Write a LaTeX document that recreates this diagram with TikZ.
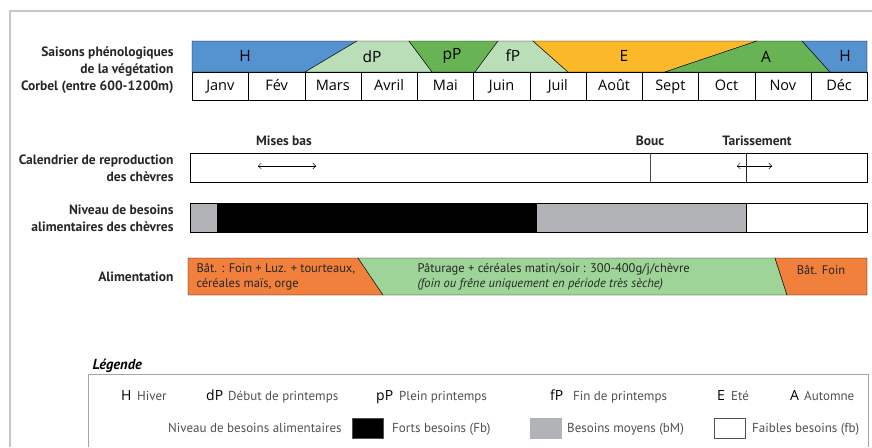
\documentclass[tikz,border=0pt]{standalone}
\usepackage{fontspec}
\setmainfont{PT Sans}
\newfontfamily\chartfont{Open Sans}
\usetikzlibrary{arrows.meta}

\definecolor{hiver}{RGB}{84,146,208}
\definecolor{printclair}{RGB}{186,222,183}
\definecolor{printvert}{RGB}{104,180,84}
\definecolor{ete}{RGB}{251,184,41}
\definecolor{batorange}{RGB}{240,128,60}
\definecolor{paturage}{RGB}{158,212,152}
\definecolor{moyen}{RGB}{178,179,182}
\definecolor{txtgris}{RGB}{80,80,80}

\begin{document}
\begin{tikzpicture}[x=1pt, y=-1pt,
    rowlab/.style={anchor=east, align=right, font=\bfseries\fontsize{13.5}{17}\selectfont, text=black!85},
    toplab/.style={font=\bfseries\fontsize{13.5}{15}\selectfont, text=black!85},
    month/.style={draw, anchor=north west, minimum width=56.25pt, minimum height=28pt, inner sep=0pt, text height=11pt, text depth=2pt, font=\chartfont\fontsize{14.5}{16}\selectfont},
    season/.style={font=\chartfont\fontsize{15.5}{17}\selectfont},
    seg/.style={anchor=north west, minimum height=29pt, inner sep=0pt, outer sep=0pt},
    feed/.style={anchor=west, align=left, font=\fontsize{12.5}{15}\selectfont, text=black!85},
    key/.style={anchor=base west, inner sep=0pt, font=\chartfont\fontsize{14}{16}\selectfont},
    keytxt/.style={anchor=base west, inner sep=0pt, font=\fontsize{13}{15}\selectfont, text=txtgris},
    swatch/.style={anchor=west, draw=txtgris, minimum width=31pt, minimum height=20pt, inner sep=0pt}]

    \useasboundingbox (0,0) rectangle (872,447);
    \draw[black!22, line width=2pt] (10,447) -- (10,11) -- (872,11);

    % saisons
    \filldraw[fill=hiver, thin] (192,41) -- (357,41) -- (305,72) -- (192,72) -- cycle;
    \filldraw[fill=printclair, thin] (357,41) -- (409,41) -- (432,72) -- (305,72) -- cycle;
    \filldraw[fill=printvert, thin] (409,41) -- (498,41) -- (475,72) -- (432,72) -- cycle;
    \filldraw[fill=printclair, thin] (498,41) -- (533,41) -- (568,72) -- (475,72) -- cycle;
    \filldraw[fill=ete, thin] (533,41) -- (757,41) -- (665,72) -- (568,72) -- cycle;
    \filldraw[fill=printvert, thin] (757,41) -- (802,41) -- (830,72) -- (665,72) -- cycle;
    \filldraw[fill=hiver, thin] (802,41) -- (867,41) -- (867,72) -- (830,72) -- cycle;

    \node[season] (sH1) at (245,56) {H};
    \node[season] (sdP) at (372,57) {dP};
    \node[season] (spP) at (452,56) {pP};
    \node[season] (sfP) at (513,56) {fP};
    \node[season] (sE) at (624,56) {E};
    \node[season] (sA) at (766,57) {A};
    \node[season] (sH2) at (845,56) {H};

    \foreach \m [count=\i from 0] in {Janv,Fév,Mars,Avril,Mai,Juin,Juil,Août,Sept,Oct,Nov,Déc}
        \node[month] (m\i) at (192+56.25*\i,72) {\m};

    \node[rowlab] (saisons) at (177,70) {Saisons phénologiques\\de la végétation\\Corbel (entre 600-1200m)};

    % reproduction
    \node[rowlab] (calrep) at (177,168) {Calendrier de reproduction\\des chèvres};
    \node[draw, seg, minimum width=677pt] (cal) at (190,153) {};
    \node[toplab] (misesbas) at (284,141) {Mises bas};
    \node[toplab] (bouc) at (650,141) {Bouc};
    \node[toplab] (tariss) at (757,141) {Tarissement};
    \coordinate (mb1) at (258,166);
    \coordinate (mb2) at (316,166);
    \coordinate (ta1) at (737,166);
    \coordinate (ta2) at (772,166);
    \coordinate (bc1) at (650,153);
    \coordinate (bc2) at (650,182);
    \coordinate (tl1) at (746,153);
    \coordinate (tl2) at (746,182);
    \draw[{Straight Barb[length=3pt,width=6pt]}-{Straight Barb[length=3pt,width=6pt]}, thin] (mb1) -- (mb2);
    \draw[{Straight Barb[length=3pt,width=6pt]}-{Straight Barb[length=3pt,width=6pt]}, thin] (ta1) -- (ta2);
    \draw[black!70] (bc1) -- (bc2);
    \draw[black!85] (tl1) -- (tl2);

    % besoins
    \node[rowlab] (niveau) at (177,218) {Niveau de besoins\\alimentaires des chèvres};
    \node[seg, fill=moyen, minimum width=27pt] (b1) at (190,203) {};
    \node[seg, fill=black, minimum width=320pt] (b2) at (217,203) {};
    \node[seg, fill=moyen, minimum width=209pt] (b3) at (537,203) {};
    \node[seg, fill=white, minimum width=121pt] (b4) at (746,203) {};
    \draw (b1.north west) rectangle (b4.south east);
    \draw (b3.north east) -- (b3.south east);

    % alimentation
    \node[rowlab] (alim) at (177,277) {Alimentation};
    \filldraw[fill=batorange, thin] (188,258) -- (358,258) -- (383,295) -- (188,295) -- cycle;
    \filldraw[fill=paturage, thin] (358,258) -- (775,258) -- (787,295) -- (383,295) -- cycle;
    \filldraw[fill=batorange, thin] (775,258) -- (867,258) -- (867,295) -- (787,295) -- cycle;
    \node[feed] (bat1) at (193,277) {Bât. : Foin + Luz. + tourteaux,\\céréales maïs, orge};
    \node[feed] (patur) at (414,277) {Pâturage + céréales matin/soir : 300-400g/j/chèvre\\\itshape (foin ou frêne uniquement en période très sèche)};
    \node[feed, anchor=center] (bat2) at (821,270) {Bât. Foin};

    % legende
    \node[anchor=west, font=\bfseries\itshape\fontsize{14.5}{16}\selectfont] (leg) at (89,366) {Légende};
    \draw[black!35] (88,447) -- (88,374) -- (868,374) -- (868,447);

    \node[key] (kH) at (121,400) {H};
    \node[keytxt] (tH) at (137,400) {Hiver};
    \node[key] (kdP) at (206,400) {dP};
    \node[keytxt] (tdP) at (228,400) {Début de printemps};
    \node[key] (kpP) at (376,400) {pP};
    \node[keytxt] (tpP) at (399,400) {Plein printemps};
    \node[key] (kfP) at (550,400) {fP};
    \node[keytxt] (tfP) at (573,400) {Fin de printemps};
    \node[key] (kE) at (717,400) {E};
    \node[keytxt] (tE) at (731,400) {Eté};
    \node[key] (kA) at (790,400) {A};
    \node[keytxt] (tA) at (804,400) {Automne};

    \node[keytxt] (niv) at (168,432) {Niveau de besoins alimentaires};
    \node[swatch, fill=black] (sqF) at (352,428) {};
    \node[keytxt] (tF) at (392,432) {Forts besoins (Fb)};
    \node[swatch, fill=moyen, draw=moyen] (sqM) at (530,428) {};
    \node[keytxt] (tM) at (567,432) {Besoins moyens (bM)};
    \node[swatch, fill=white] (sqf) at (714,428) {};
    \node[keytxt] (tf) at (752,432) {Faibles besoins (fb)};
\end{tikzpicture}
\end{document}
